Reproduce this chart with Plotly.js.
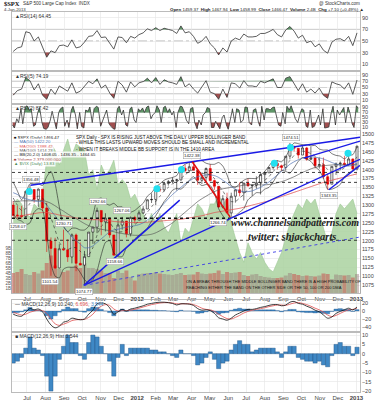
<!DOCTYPE html>
<html><head><meta charset="utf-8">
<script src="https://cdn.plot.ly/plotly-3.0.1.min.js"></script>
<style>html,body{margin:0;padding:0;background:#fff}#chart{width:377px;height:400px}</style>
</head><body><div id="chart"></div>
<script>
// ---------------- DATA (weekly samples) ----------------
const firstWeek = '2011-06-08';   // Wednesday of first plotted week
const weekCount = 83;

const weekOpen = [1300,1272,1271,1268,1339,1344,1316,1345,1292,1199,1178,1123,1177,1174,1154,1216,1136,1131,1155,1224,1238,1285,1253,1263,1216,1159,1244,1255,1219,1265,
1258,1278,1289,1315,1316,1345,1343,1361,1366,1370,1371,1404,1397,1408,1398,1370,1378,1403,1369,1353,1295,1318,1278,1325,1343,1335,1362,1354,1356,1363,1386,1391,1406,1418,1411,1406,1438,1466,1460,1441,1461,1429,1433,1411,1414,1380,1359,1409,1416,1418,1413,1430,1402];
const weekHigh = [1312,1298,1298,1341,1356,1344,1347,1345,1307,1209,1208,1190,1231,1204,1220,1220,1195,1171,1224,1239,1293,1285,1277,1265,1216,1260,1267,1255,1268,1270,
1285,1297,1316,1333,1345,1355,1363,1371,1378,1374,1406,1414,1419,1422,1398,1392,1406,1415,1372,1354,1328,1335,1335,1345,1364,1363,1375,1357,1381,1390,1394,1407,1419,1426,1414,1438,1475,1466,1460,1470,1464,1465,1434,1434,1434,1389,1409,1420,1423,1439,1448,1431,1467];
const weekLow = [1268,1262,1262,1262,1333,1307,1295,1283,1168,1101,1120,1122,1172,1140,1136,1114,1131,1075,1155,1191,1221,1215,1226,1208,1159,1158,1231,1209,1212,1248,
1258,1275,1289,1306,1300,1337,1338,1355,1362,1341,1369,1391,1391,1398,1357,1359,1366,1367,1343,1292,1291,1278,1267,1307,1325,1313,1353,1326,1346,1330,1366,1391,1400,1400,1397,1397,1429,1451,1431,1441,1425,1427,1403,1403,1375,1343,1359,1385,1398,1411,1411,1399,1398];
const weekClose = [1271,1271,1268,1339,1344,1316,1345,1292,1199,1178,1123,1177,1174,1154,1216,1136,1131,1155,1224,1238,1285,1253,1263,1216,1159,1244,1255,1219,1265,1258,
1278,1289,1315,1316,1345,1343,1361,1366,1370,1371,1404,1397,1408,1398,1370,1378,1403,1369,1353,1295,1318,1278,1325,1343,1335,1362,1354,1356,1363,1386,1391,1406,1418,1411,1406,1438,1466,1460,1441,1461,1429,1433,1411,1414,1380,1359,1409,1416,1418,1413,1430,1402,1466];

const ma50 = [1335,1330,1322,1318,1315,1312,1310,1310,1300,1285,1270,1255,1240,1225,1210,1200,1190,1180,1180,1185,1195,1205,1215,1225,1230,1232,1235,1238,1240,1242,
1245,1250,1258,1268,1280,1292,1305,1318,1330,1340,1350,1360,1368,1375,1380,1383,1385,1385,1383,1378,1370,1362,1352,1345,1340,1338,1338,1340,1345,1350,1358,1365,1375,1385,1395,1405,1415,1422,1428,1432,1435,1436,1435,1433,1430,1425,1420,1416,1412,1410,1410,1412,1418];
const ma100 = [1310,1310,1312,1312,1312,1312,1313,1313,1310,1305,1298,1290,1283,1275,1268,1262,1255,1248,1242,1238,1235,1232,1230,1228,1225,1222,1220,1218,1216,1215,
1215,1215,1216,1218,1222,1228,1235,1242,1250,1260,1270,1280,1290,1300,1310,1318,1325,1332,1338,1343,1346,1348,1350,1352,1354,1356,1357,1358,1358,1357,1357,1358,1360,1363,1366,1370,1375,1380,1386,1392,1397,1402,1406,1409,1411,1412,1413,1414,1414,1414,1414,1413,1414];
const ma200 = [1265,1268,1270,1272,1274,1276,1278,1279,1279,1277,1275,1272,1270,1268,1266,1264,1262,1260,1259,1259,1259,1258,1257,1256,1254,1253,1252,1251,1251,1251,
1251,1251,1252,1253,1254,1255,1256,1257,1258,1259,1260,1262,1264,1266,1268,1270,1273,1276,1279,1281,1283,1285,1287,1289,1291,1294,1297,1300,1303,1306,1309,1312,1316,1320,1324,1328,1332,1336,1340,1344,1348,1352,1356,1360,1364,1367,1370,1373,1376,1379,1382,1385,1388];
const bbMid = [1320,1300,1285,1290,1305,1320,1325,1320,1300,1265,1230,1195,1180,1175,1180,1180,1170,1160,1160,1180,1215,1240,1250,1250,1235,1225,1225,1230,1235,1245,
1255,1265,1280,1295,1310,1325,1340,1350,1360,1365,1375,1385,1395,1400,1395,1390,1388,1385,1375,1355,1340,1320,1310,1310,1320,1330,1345,1350,1355,1360,1370,1380,1395,1405,1410,1415,1425,1440,1448,1452,1450,1445,1438,1428,1415,1400,1395,1395,1398,1405,1415,1420,1436];
const bbHalf = [45,40,30,45,55,40,35,35,80,130,130,100,60,50,55,55,60,70,80,90,100,80,55,50,70,70,70,50,45,40,
40,40,45,40,40,35,30,25,18,18,30,30,25,20,30,35,30,30,40,65,70,65,45,40,40,40,30,25,20,25,25,30,30,20,12,20,35,35,25,18,20,22,30,30,40,55,50,45,40,25,25,22,28];
const volumeB = [4.0,4.2,4.8,3.8,3.6,4.2,3.9,4.5,6.0,7.5,5.5,4.8,4.2,4.5,5.2,5.5,5.0,6.0,5.0,5.0,4.8,4.5,4.0,4.0,3.0,4.5,4.0,4.5,3.2,2.5,
3.8,3.9,4.0,4.0,4.2,3.9,3.8,3.7,3.6,3.8,4.0,3.6,3.7,3.7,4.2,3.9,3.8,3.9,4.0,4.5,3.8,4.2,4.0,4.1,4.2,3.6,3.4,3.7,3.8,3.4,3.2,3.1,3.0,3.0,3.1,3.5,4.0,3.8,3.6,3.4,3.5,3.4,3.3,3.5,3.9,3.8,2.8,3.7,3.6,3.5,3.6,3.1,3.8];
const greenArea = [55,58,55,49,47,55,52,61,82,92,88,79,88,95,85,92,90,88,73,76,64,79,73,76,82,67,70,67,58,61,
55,49,43,49,43,49,41,37,43,49,31,40,37,46,55,52,46,55,55,61,55,58,43,34,25,19,31,25,21,25,19,15,13,19,25,34,43,49,55,52,58,55,58,49,40,31,37,49,55,52,55,58,49];

const rsi14 = [32,38,40,66,64,50,57,40,22,33,30,42,43,40,52,38,40,48,58,59,68,56,57,46,36,57,56,47,58,55,
61,64,71,68,73,68,72,70,68,63,76,64,66,58,46,50,58,45,38,26,38,31,50,55,52,62,57,57,58,63,63,66,70,61,57,69,75,67,55,60,47,50,40,45,34,29,48,53,54,50,58,42,64];
const rsi5 = [25,40,45,82,72,42,62,25,12,45,28,55,45,38,65,32,38,55,70,62,78,48,58,32,15,70,58,35,68,52,
65,68,80,65,82,60,75,68,65,60,85,52,62,45,32,50,72,35,30,12,45,18,65,62,48,72,55,55,52,70,65,72,78,50,50,80,85,62,40,62,35,45,32,48,25,15,68,62,58,45,65,28,74];
const rsi2 = [20,8,45,30,85,25,90,97,80,85,15,20,70,90,30,6,3,10,40,75,35,5,70,85,92,15,40,10,80,95,60,5,70,15,8,80,75,92,30,85,95,90,15,35,60,80,25,15,5,3,85,95,60,80,20,15,85,92,40,30,
85,75,88,70,92,96,45,60,70,97,80,30,90,95,70,85,60,75,10,70,95,93,70,40,25,85,90,30,5,40,20,60,70,90,85,10,10,35,15,5,50,60,20,3,40,85,30,85,80,30,40,92,90,30,20,80,85,40,15,95,40,85,85,80,90,92,50,20,15,70,25,95,80,97,70,45,30,60,85,80,15,10,80,10,15,35,60,20,85,8,10,12,70,95,20,80,60,75,90,30,92,70,25,10,97,87];

const macdLine = [-8,-12,-13,-3,6,3,5,-2,-20,-35,-42,-38,-28,-25,-18,-20,-22,-20,-8,2,18,20,18,8,-8,-2,4,0,5,7,
10,13,17,19,21,22,22,21,19,15,18,18,17,14,6,2,3,1,-6,-17,-20,-23,-18,-10,-5,0,4,4,6,9,11,14,16,16,13,15,22,24,19,17,12,8,2,-2,-10,-18,-15,-6,-1,3,7,3,10];
const macdSignal = [-3,-7,-10,-8,-3,0,2,1,-6,-20,-32,-36,-33,-29,-24,-22,-21,-21,-16,-8,4,12,16,14,5,0,1,1,2,4,
7,10,13,16,18,20,21,21,20,18,18,18,18,16,12,7,4,3,-1,-8,-14,-19,-20,-16,-11,-5,-1,2,4,6,8,11,13,15,15,14,17,20,21,19,16,12,7,3,-3,-10,-14,-11,-6,-1,3,4,7];
const macdHist = [-5,-4,-2,3,9,3,2,-1,-12,-20,-12,-3,4,10,6,6,-1,-3,6,10,9,4,0,-4,-12,-2,5,-1,3,3,
3,3,3,2,2,1,1,0,-1,-2,2,0,0,-1,-6,-5,-2,1,-3,-8,-5,-4,2,5,7,5,5,1,2,3,3,3,3,1,-2,1,4,4,-2,-3,-4,-4,-5,-4,-6,-7,-1,5,6,4,4,-1,3.5];

// chartist's drawn lines: [[start date, end date],[start price, end price]]
const trendUpper   = [['2011-07-07','2013-01-07'],[1356,1491]];
const trendOctA    = [['2011-10-04','2012-03-12'],[1074,1314]];
const trendOctB    = [['2011-10-04','2013-01-07'],[1074,1429]];
const trendOctC    = [['2011-10-04','2013-01-07'],[1074,1210]];
const trendNovLow  = [['2012-11-16','2013-01-07'],[1343,1412]];
const trendOctHigh = [['2012-10-05','2013-01-07'],[1432,1480]];
const trendRedDown = [['2012-04-02','2012-06-04'],[1422,1267]];
const levelPrices  = [1392,1364,1263,1201];

const cyanDates  = ['2011-07-05','2012-02-03','2012-03-15','2012-08-17','2012-09-13','2012-12-18'];
const cyanPrices = [1338,1346,1400,1418,1462,1446];

const labelDates  = ['2011-06-16','2011-07-07','2011-08-09','2011-08-31','2011-10-04','2011-10-27','2011-11-25','2011-12-07','2012-04-02','2012-06-04','2012-09-14','2012-11-16'];
const labelPrices = [1258.07,1356.48,1101.54,1230.71,1074.77,1292.66,1158.66,1267.06,1422.38,1266.74,1474.51,1343.35];
const labelAbove  = [false,true,false,true,false,true,false,true,true,false,true,false];

const monthTicks = ['2011-07-01','2011-08-01','2011-09-01','2011-10-01','2011-11-01','2011-12-01','2012-01-01','2012-02-01','2012-03-01','2012-04-01','2012-05-01','2012-06-01','2012-07-01','2012-08-01','2012-09-01','2012-10-01','2012-11-01','2012-12-01','2013-01-01'];
const monthText  = ['Jul','Aug','Sep','Oct','Nov','Dec','<b>2012</b>','Feb','Mar','Apr','May','Jun','Jul','Aug','Sep','Oct','Nov','Dec','<b>2013</b>'];

// ---------------- helpers ----------------
const DAY = 86400000;
const iso = t => new Date(t).toISOString().slice(0,10);
const weeks = []; { const t0 = Date.parse(firstWeek); for (let i=0;i<weekCount;i++) weeks.push(iso(t0+i*7*DAY)); }
const halfWeeks = []; weeks.forEach(w=>{const t=Date.parse(w); halfWeeks.push(iso(t-DAY)); halfWeeks.push(iso(t+2*DAY));});

const H=400, L=12, R=360;
const px = x => (x-L)/(R-L), py = y => 1-y/H, dom=(t,b)=>[1-b/H,1-t/H];
const FONT = 'Liberation Sans, Arial, sans-serif';

function rsiTraces(xs, ys, xa, ya){
  const t = xs.map(d=>Date.parse(d));
  const X=[], Y=[];
  for (let i=0;i<ys.length;i++){
    if (i>0){
      const a=ys[i-1], b=ys[i];
      const cr=[];
      for (const th of [70,30]){ if ((a-th)*(b-th)<0){ const f=(th-a)/(b-a); cr.push([f,th]); } }
      cr.sort((p,q)=>p[0]-q[0]).forEach(([f,th])=>{X.push(t[i-1]+f*(t[i]-t[i-1])); Y.push(th);});
    }
    X.push(t[i]); Y.push(ys[i]);
  }
  const Xs = X.map(v=>new Date(v).toISOString().slice(0,19).replace('T',' '));
  const base = {xaxis:xa,yaxis:ya,mode:'lines',hoverinfo:'skip',showlegend:false};
  return [
    {...base,x:Xs,y:Xs.map(()=>70),line:{width:0,color:'rgba(0,0,0,0)'}},
    {...base,x:Xs,y:Y.map(v=>Math.max(v,70)),line:{width:0,color:'rgba(0,0,0,0)'},fill:'tonexty',fillcolor:'rgba(78,140,88,0.9)'},
    {...base,x:Xs,y:Xs.map(()=>30),line:{width:0,color:'rgba(0,0,0,0)'}},
    {...base,x:Xs,y:Y.map(v=>Math.min(v,30)),line:{width:0,color:'rgba(0,0,0,0)'},fill:'tonexty',fillcolor:'rgba(150,60,60,0.9)'},
    {...base,x:Xs,y:Y,line:{width:0.8,color:'#333'}}
  ];
}

const traces = [];
traces.push(...rsiTraces(weeks, rsi14, 'x','y'));
traces.push(...rsiTraces(weeks, rsi5, 'x2','y2'));
traces.push(...rsiTraces(halfWeeks, rsi2, 'x3','y3'));

// price panel: y4 = background area, y5 = volume, y6 = price
traces.push({x:weeks,y:greenArea,xaxis:'x4',yaxis:'y4',type:'scatter',mode:'lines',fill:'tozeroy',
  line:{color:'#9cc894',width:0.6},fillcolor:'rgba(170,210,160,0.85)',hoverinfo:'skip'});
traces.push({x:weeks,y:volumeB,xaxis:'x4',yaxis:'y5',type:'bar',
  marker:{color:weekClose.map((c,i)=>c<weekOpen[i]?'rgba(200,80,80,0.55)':'rgba(150,120,120,0.45)'),line:{width:0}},
  width:7*DAY*0.95,hoverinfo:'skip'});
const bbUp = bbMid.map((m,i)=>m+bbHalf[i]), bbDn = bbMid.map((m,i)=>m-bbHalf[i]);
const lineP = (y,c,w,d)=>({x:weeks,y,xaxis:'x4',yaxis:'y6',mode:'lines',line:{color:c,width:w,dash:d||'solid',shape:'spline',smoothing:0.6},hoverinfo:'skip'});
traces.push(lineP(ma200,'#e05050',0.8));
traces.push(lineP(ma100,'#555',0.7));
traces.push(lineP(ma50,'#4a6fb0',0.7));
traces.push(lineP(bbUp,'#222',0.6));
traces.push(lineP(bbDn,'#222',0.6));
traces.push(lineP(bbMid,'#222',0.6,'dot'));
const levelStyle = [{w:0.8,d:'dot'},{w:0.8,d:'dot'},{w:1.6,d:'dot'},{w:0.8,d:'dot'}];
levelPrices.forEach((p,i)=>traces.push({x:['2011-06-06','2013-01-07'],y:[p,p],xaxis:'x4',yaxis:'y6',mode:'lines',
  line:{color:'#111',width:levelStyle[i].w,dash:levelStyle[i].d},hoverinfo:'skip'}));
const tl = (seg,c,w,d)=>({x:seg[0],y:seg[1],xaxis:'x4',yaxis:'y6',mode:'lines',line:{color:c,width:w,dash:d||'solid'},hoverinfo:'skip'});
traces.push(tl(trendUpper,'#1a1ae6',1.4));
traces.push(tl(trendOctA,'#1a1ae6',1.4));
traces.push(tl(trendOctB,'#1a1ae6',1.4));
traces.push(tl(trendOctC,'#3a3ae6',0.9,'dot'));
traces.push(tl(trendNovLow,'#1a1ae6',1.3));
traces.push(tl(trendOctHigh,'#1a1ae6',1.3));
traces.push(tl(trendRedDown,'#e01010',1.6));
traces.push({x:cyanDates,y:cyanPrices,xaxis:'x4',yaxis:'y6',mode:'markers',marker:{color:'#22e0f0',size:7,line:{width:0}},hoverinfo:'skip'});
traces.push({type:'candlestick',x:weeks,open:weekOpen,high:weekHigh,low:weekLow,close:weekClose,xaxis:'x4',yaxis:'y6',
  increasing:{line:{color:'#111',width:0.6},fillcolor:'#ffffff'},decreasing:{line:{color:'#e00000',width:0.6},fillcolor:'#e00000'},
  whiskerwidth:0,hoverinfo:'skip'});

// MACD panel
traces.push({x:weeks,y:macdHist,xaxis:'x5',yaxis:'y7',type:'bar',width:7*DAY,marker:{color:'#3f88c5',line:{width:0.3,color:'#1d4f80'}},hoverinfo:'skip'});
traces.push({x:weeks,y:macdSignal,xaxis:'x5',yaxis:'y7',mode:'lines',line:{color:'#e05050',width:0.8,shape:'spline'},hoverinfo:'skip'});
traces.push({x:weeks,y:macdLine,xaxis:'x5',yaxis:'y7',mode:'lines',line:{color:'#111',width:0.8,shape:'spline'},hoverinfo:'skip'});
// Histogram panel
traces.push({x:weeks,y:macdHist,xaxis:'x6',yaxis:'y8',type:'bar',width:7*DAY,marker:{color:'#3f88c5',line:{width:0.4,color:'#1d4f80'}},hoverinfo:'skip'});

// ---------------- layout ----------------
const xr = ['2011-06-06','2013-01-07'];
const xBase = {type:'date',range:xr,tickmode:'array',tickvals:monthTicks,ticktext:monthText,showgrid:true,gridcolor:'#e4e4e4',gridwidth:0.6,
  showline:true,mirror:true,linecolor:'#aaa',linewidth:0.8,zeroline:false,ticks:'',showticklabels:false,tickfont:{size:6,color:'#444',family:FONT},fixedrange:true};
const yBase = {side:'right',showgrid:true,gridcolor:'#e4e4e4',gridwidth:0.6,showline:true,mirror:true,linecolor:'#aaa',linewidth:0.8,
  zeroline:false,ticks:'',tickfont:{size:5.5,color:'#444',family:FONT},fixedrange:true,automargin:false};

const P = {rsi14:dom(12,70), rsi5:dom(72,103), rsi2:dom(105,130), price:dom(131,293), macd:dom(300,331), hist:dom(333,392)};
const rsiTicks = {tickmode:'array',tickvals:[10,30,50,70,90],ticktext:['10','30','50','70','90']};

const layout = {
  width:377,height:400,margin:{l:L,r:377-R,t:0,b:0},paper_bgcolor:'#fff',plot_bgcolor:'#fff',showlegend:false,
  font:{family:FONT},
  xaxis: {...xBase,anchor:'y'},
  xaxis2:{...xBase,anchor:'y2',matches:'x'},
  xaxis3:{...xBase,anchor:'y3',matches:'x'},
  xaxis4:{...xBase,anchor:'y4',matches:'x',showticklabels:true,rangeslider:{visible:false}},
  xaxis5:{...xBase,anchor:'y7',matches:'x'},
  xaxis6:{...xBase,anchor:'y8',matches:'x',showticklabels:true},
  yaxis: {...yBase,...rsiTicks,domain:P.rsi14,range:[0,100],anchor:'x'},
  yaxis2:{...yBase,...rsiTicks,domain:P.rsi5,range:[0,100],anchor:'x2'},
  yaxis3:{...yBase,...rsiTicks,domain:P.rsi2,range:[0,100],anchor:'x3'},
  yaxis4:{...yBase,domain:P.price,range:[0,100],anchor:'x4',showgrid:false,showticklabels:false},
  yaxis5:{...yBase,overlaying:'y4',anchor:'x4',side:'left',range:[0,32.4],showgrid:false,showline:false,
          tickmode:'array',tickvals:[1,2,3,4,5,6,7,8,9],ticktext:['1B','2B','3B','4B','5B','6B','7B','8B','9B'],tickfont:{size:4.5,color:'#555',family:FONT}},
  yaxis6:{...yBase,overlaying:'y4',anchor:'x4',range:[1052.5,1508.7],tickmode:'linear',tick0:1075,dtick:25},
  yaxis7:{...yBase,domain:P.macd,range:[-50,27.5],anchor:'x5',tickmode:'array',tickvals:[20,0,-20,-40]},
  yaxis8:{...yBase,domain:P.hist,range:[-20.5,11.1],anchor:'x6',tickmode:'array',tickvals:[10,5,0,-5,-10,-15,-20]},
  annotations:[],
  shapes:[]
};

['x','x2','x3'].forEach((xa,k)=>{
  const ya = ['y','y2','y3'][k];
  [70,30].forEach(v=>layout.shapes.push({type:'line',xref:xa+' domain',x0:0,x1:1,yref:ya,y0:v,y1:v,line:{color:'#999',width:0.8},layer:'below'}));
  layout.shapes.push({type:'line',xref:xa+' domain',x0:0,x1:1,yref:ya,y0:50,y1:50,line:{color:'#999',width:0.7,dash:'dashdot'},layer:'below'});
});

const ann = (x,y,text,o={}) => layout.annotations.push(Object.assign({xref:'paper',yref:'paper',x:px(x),y:py(y),text,showarrow:false,
  xanchor:'left',yanchor:'middle',font:{size:5,color:'#222',family:FONT}},o));

// header
ann(2,3.5,'<b>$SPX</b>',{font:{size:6.5,color:'#111',family:'Liberation Serif, serif'}});
ann(21,3.5,'S&P 500 Large Cap Index  INDX',{font:{size:4.6,color:'#333',family:FONT}});
ann(2,9.5,'4-Jan-2013',{font:{size:4.3,color:'#333',family:FONT}});
ann(362,3.5,'@ StockCharts.com',{xanchor:'right',font:{size:4.6,color:'#333',family:FONT}});
ann(366,9.5,'<b>Open</b> 1459.37  <b>High</b> 1467.94  <b>Low</b> 1458.99  <b>Close</b> 1466.47  <b>Volume</b> 2.4B  <b>Chg</b> +7.10 (+0.49%) ▲',
  {xanchor:'right',font:{size:4.4,color:'#222',family:FONT}});

// panel labels
ann(13,16,'▲RSI(14) 64.45',{font:{size:5,color:'#333',family:FONT}});
ann(13,76,'▲RSI(5) 74.19',{font:{size:5,color:'#333',family:FONT}});
ann(13,108,'▲RSI(2) 87.42',{font:{size:5,color:'#333',family:FONT}});
ann(13,304,'— MACD(12,26,9) 10.240, <span style="color:#e05050">6.696</span>, <span style="color:#3f88c5">3.544</span>',{font:{size:5,color:'#333',family:FONT}});
ann(13,336,'■ MACD(12,26,9) Hist 3.544',{font:{size:5,color:'#333',family:FONT}});

// price legend
const legendLines = [
  ['■ $SPX (Daily) 1466.47','#111'],
  ['— MA(50) 1422.20','#4a6fb0'],
  ['— MA(200) 1388.42','#e05050'],
  ['— MA(100) 1414.23','#555'],
  ['— BB(20,2.0) 1408.05 - 1436.35 - 1464.65','#222'],
  ['■ Volume 2,379,000,000','#a04040'],
  ['▲ $VIX (Daily) 13.83','#4e8c58']
];
legendLines.forEach(([t,c],i)=>ann(13,137.5+4.3*i,t,{font:{size:4.3,color:c,family:FONT},bgcolor:'rgba(255,255,255,0.85)',borderpad:0}));

// comment text
['SPX Daily - SPX IS RISING JUST ABOVE THE DAILY UPPER BOLLINGER BAND',
 '- WHILE THIS LASTS UPWARD MOVES SHOULD BE SMALL AND INCREMENTAL',
 '- WHEN IT BREAKS MIDDLE BB SUPPORT IS IN THE 1410 AREA'].forEach((t,i)=>ann(74,137+6*i,t,{font:{size:4.6,color:'#111',family:FONT}}));
['ON A BREAK THROUGH THE MIDDLE BOLLINGER BAND THERE IS A HIGH PROBABILITY OF',
 'REACHING EITHER THE BAND ON THE OTHER SIDE OR THE 50, 100 OR 200 DMA'].forEach((t,i)=>ann(184,281+6*i,t,{font:{size:4.0,color:'#111',family:FONT}}));
ann(295,222,'<b><i>www.channelsandpatterns.com</i></b>',{xanchor:'center',font:{size:10,color:'#222',family:'Liberation Serif, serif'}});
ann(292,236,'<b><i>twitter: shjackcharts</i></b>',{xanchor:'center',font:{size:10.5,color:'#222',family:'Liberation Serif, serif'}});

// price value labels
labelDates.forEach((d,i)=>layout.annotations.push({xref:'x4',yref:'y6',x:d,y:labelPrices[i],text:labelPrices[i].toFixed(2),showarrow:false,
  yshift:labelAbove[i]?6:-6,xanchor:(i===9?'right':'center'),xshift:(i===9?-3:0),font:{size:4.3,color:'#222',family:FONT},bgcolor:'#fff',bordercolor:'#999',borderwidth:0.5,borderpad:0.6}));

Plotly.newPlot('chart',traces,layout,{staticPlot:true,displayModeBar:false});
</script></body></html>
